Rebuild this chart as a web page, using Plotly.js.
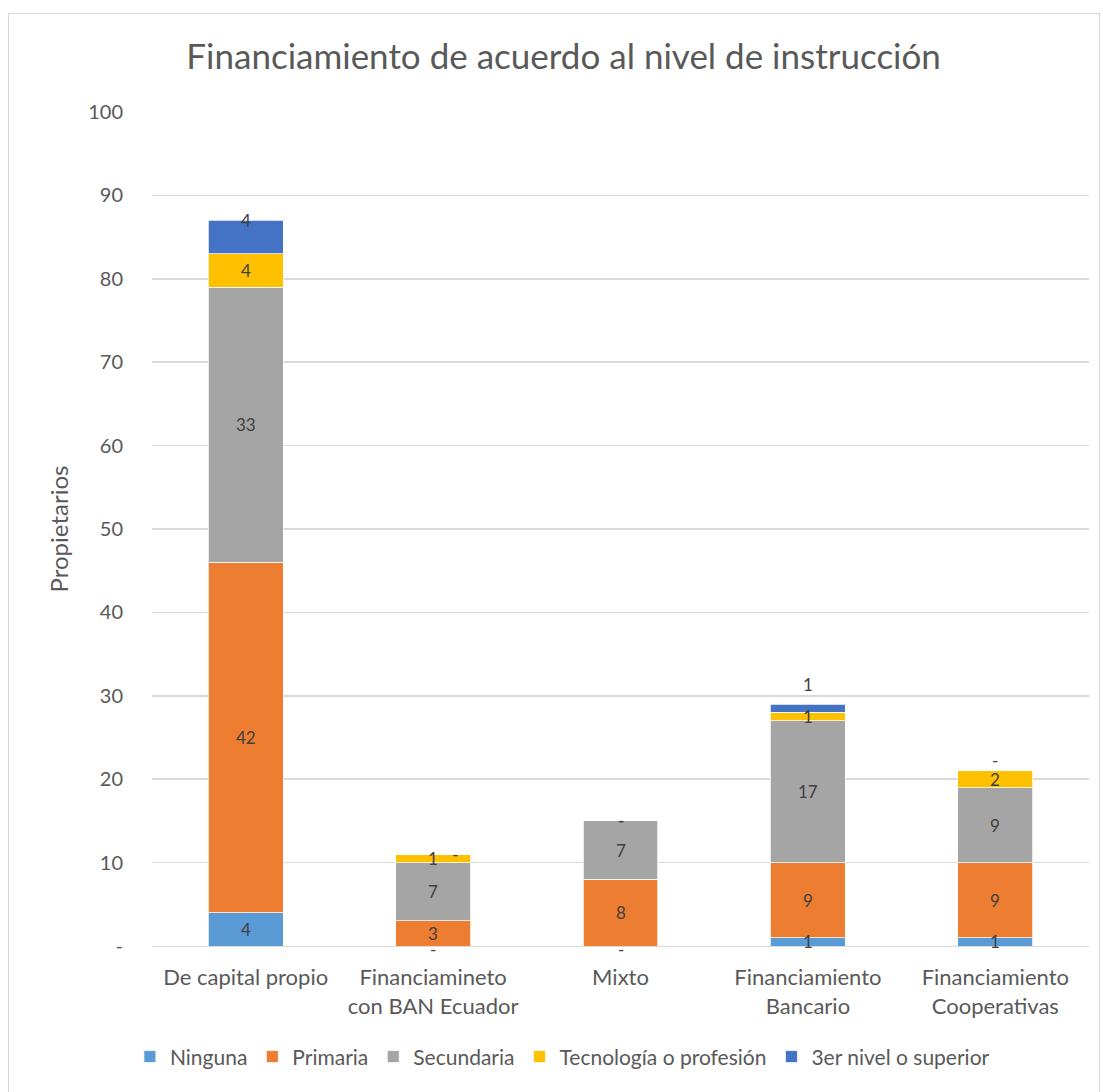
<!DOCTYPE html>
<html>
<head>
<meta charset="utf-8">
<script src="https://cdn.plot.ly/plotly-3.0.1.min.js"></script>
<style>
  html, body { margin: 0; padding: 0; background: #ffffff; }
  #frame { position: absolute; left: 8px; top: 13px; width: 1092px; height: 1090px; border: 1px solid #D9D9D9; box-sizing: border-box; pointer-events: none; z-index: 5; }
  #chart { position: absolute; left: 0; top: 0; width: 1103px; height: 1092px; }
</style>
</head>
<body>
<div id="chart"></div>
<div id="frame"></div>
<script>
const categories = [
  "De capital propio",
  "Financiamineto<br>con BAN Ecuador",
  "Mixto",
  "Financiamiento<br>Bancario",
  "Financiamiento<br>Cooperativas"
];
const seriesNames = ["Ninguna", "Primaria", "Secundaria", "Tecnología o profesión", "3er nivel o superior"];
const ninguna    = [4, 0, 0, 1, 1];
const primaria   = [42, 3, 8, 9, 9];
const secundaria = [33, 7, 7, 17, 9];
const tecnologia = [4, 1, 0, 1, 2];
const tercerNivel = [4, 0, 0, 1, 0];
const yTickVals = [0, 10, 20, 30, 40, 50, 60, 70, 80, 90, 100];
const yTickText = ["-", "10", "20", "30", "40", "50", "60", "70", "80", "90", "100"];

const seriesValues = [ninguna, primaria, secundaria, tecnologia, tercerNivel];
const colors = ["#5B9BD5", "#ED7D31", "#A5A5A5", "#FFC000", "#4472C4"];
const FONT = "Lato, 'Open Sans', sans-serif";

// pixel nudges for labels that the original moved to avoid overlaps (series-category)
const labelNudge = {
  "0-1": { yshift: -3 },
  "0-2": { yshift: -3 },
  "4-0": { yshift: 17 },
  "4-1": { xshift: 22 },
  "4-3": { yshift: 24 },
  "4-4": { yshift: 10 }
};

const traces = seriesValues.map((vals, i) => ({
  type: "bar",
  name: seriesNames[i],
  x: categories,
  y: vals,
  marker: { color: colors[i], line: { color: "#ffffff", width: 0.75 } },
  hoverinfo: "skip"
}));

const annotations = [];
const base = categories.map(() => 0);
seriesValues.forEach((vals, i) => {
  vals.forEach((v, j) => {
    const nudge = labelNudge[i + "-" + j] || {};
    annotations.push({
      x: categories[j], y: base[j] + v / 2, xref: "x", yref: "y",
      text: v === 0 ? "-" : String(v),
      showarrow: false,
      xshift: nudge.xshift || 0, yshift: nudge.yshift || 0,
      font: { family: FONT, size: 17, color: "#404040" }
    });
    base[j] += v;
  });
});

const layout = {
  width: 1103, height: 1092,
  paper_bgcolor: "#ffffff", plot_bgcolor: "#ffffff",
  barmode: "stack",
  bargap: 0.6,
  margin: { l: 152, r: 14, t: 112, b: 146 },
  title: {
    text: "Financiamiento de acuerdo al nivel de instrucción",
    font: { family: FONT, size: 35, color: "#595959" },
    x: 0.511, xanchor: "center", y: 0.948, yanchor: "middle"
  },
  font: { family: FONT, color: "#595959" },
  xaxis: {
    type: "category",
    tickfont: { family: FONT, size: 22, color: "#595959" },
    showgrid: false, zeroline: false,
    showline: true, linecolor: "#D9D9D9", linewidth: 1,
    ticks: "", ticklabelstandoff: 12
  },
  yaxis: {
    range: [0, 100],
    tickvals: yTickVals, ticktext: yTickText,
    tickfont: { family: FONT, size: 20, color: "#595959" },
    gridcolor: "#D9D9D9", gridwidth: 1.5,
    zeroline: false, showline: false, ticks: "",
    ticklabelstandoff: 28,
    title: { text: "Propietarios", font: { family: FONT, size: 24, color: "#595959" }, standoff: 12 }
  },
  legend: {
    orientation: "h", x: 0.438, xanchor: "center", y: -0.133, yanchor: "middle",
    font: { family: FONT, size: 21, color: "#595959" },
    traceorder: "normal", itemwidth: 30
  },
  annotations: annotations,
  showlegend: true
};

Plotly.newPlot("chart", traces, layout, { displayModeBar: false, staticPlot: true });
</script>
</body>
</html>
